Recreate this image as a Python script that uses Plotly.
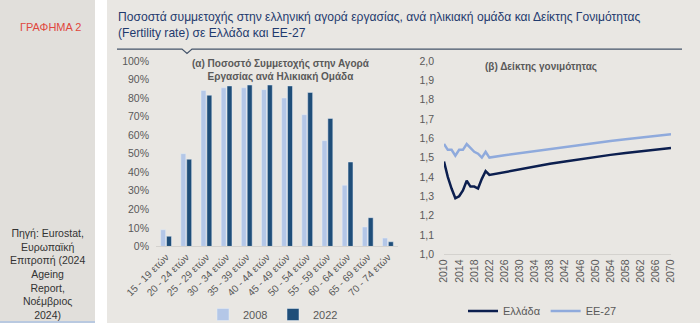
import plotly.graph_objects as go

W, H = 700, 329

# Labour force participation by age group (%)
age_groups = ["15 - 19 ετών", "20 - 24 ετών", "25 - 29 ετών", "30 - 34 ετών",
              "35 - 39 ετών", "40 - 44 ετών", "45 - 49 ετών", "50 - 54 ετών",
              "55 - 59 ετών", "60 - 64 ετών", "65 - 69 ετών", "70 - 74 ετών"]
part_2008 = [9.0, 50.0, 84.0, 85.5, 85.5, 84.5, 80.0, 71.0, 57.0, 33.0, 10.5, 4.5]
part_2022 = [5.5, 47.0, 81.5, 86.5, 87.0, 87.0, 86.5, 83.0, 69.0, 45.5, 15.5, 2.5]
pct_ticks = list(range(0, 101, 10))
pct_labels = [f"{v}%" for v in pct_ticks]

# Total fertility rate: observed 2010-2022, projections to 2070
years = [2010, 2011, 2012, 2013, 2014, 2015, 2016, 2017, 2018, 2019, 2020, 2021, 2022,
         2026, 2030, 2034, 2038, 2042, 2046, 2050, 2054, 2058, 2062, 2066, 2070]
tfr_greece = [1.48, 1.40, 1.34, 1.29, 1.30, 1.33, 1.38, 1.35, 1.35, 1.34, 1.39, 1.43, 1.41,
              1.425, 1.44, 1.455, 1.468, 1.48, 1.492, 1.503, 1.514, 1.524, 1.533, 1.542, 1.55]
tfr_eu27 = [1.57, 1.54, 1.54, 1.51, 1.54, 1.54, 1.57, 1.55, 1.53, 1.52, 1.50, 1.53, 1.50,
            1.512, 1.523, 1.534, 1.545, 1.556, 1.566, 1.576, 1.586, 1.595, 1.604, 1.612, 1.62]
year_ticks = list(range(2010, 2071, 4))
tfr_ticks = [1.0 + i / 10 for i in range(11)]


def px(x):
    return x / W


def py(y):
    return 1 - y / H


FONT = "Liberation Sans, Arial, sans-serif"
GREY = "#595959"

fig = go.Figure()

fig.add_trace(go.Bar(x=age_groups, y=part_2008, name="2008", marker_color="#b4c7e7",
                     xaxis="x", yaxis="y", legend="legend"))
fig.add_trace(go.Bar(x=age_groups, y=part_2022, name="2022", marker_color="#1f4e79",
                     xaxis="x", yaxis="y", legend="legend"))

fig.add_trace(go.Scatter(x=years, y=tfr_greece, name="Ελλάδα", mode="lines",
                         line=dict(color="#0c1f4f", width=2.5),
                         xaxis="x2", yaxis="y2", legend="legend2"))
fig.add_trace(go.Scatter(x=years, y=tfr_eu27, name="ΕΕ-27", mode="lines",
                         line=dict(color="#8faadc", width=2.5),
                         xaxis="x2", yaxis="y2", legend="legend2"))

shapes = [
    # side panel, spacer and main panel backgrounds
    dict(type="rect", xref="paper", yref="paper", x0=0, x1=px(95), y0=0, y1=1,
         fillcolor="#e1dfdb", line_width=0, layer="below"),
    dict(type="rect", xref="paper", yref="paper", x0=px(107), x1=1, y0=0, y1=1,
         fillcolor="#e9e7e3", line_width=0, layer="below"),
    dict(type="line", xref="paper", yref="paper", x0=0, x1=px(95), y0=py(328), y1=py(328),
         line=dict(color="#b9c9e0", width=2), layer="below"),
    # title rule with notch
    dict(type="path", xref="paper", yref="paper",
         path=(f"M {px(117)},{py(50)} L {px(182)},{py(50)} L {px(187)},{py(54.5)} "
               f"L {px(192)},{py(50)} L {px(682)},{py(50)}"),
         line=dict(color="#44546a", width=1.2)),
]

annotations = [
    dict(text="ΓΡΑΦΗΜΑ 2", x=px(50), y=py(27), xref="paper", yref="paper",
         showarrow=False, font=dict(family=FONT, size=11, color="#e0473d"),
         xanchor="center", yanchor="middle"),
    dict(text=("Ποσοστά συμμετοχής στην ελληνική αγορά εργασίας, ανά ηλικιακή ομάδα και Δείκτης Γονιμότητας"
               "<br>(Fertility rate) σε Ελλάδα και ΕΕ-27"),
         x=px(116), y=py(8), xref="paper", yref="paper", showarrow=False, align="left",
         font=dict(family=FONT, size=12.1, color="#1f3a6e"), xanchor="left", yanchor="top"),
    dict(text="Πηγή: Eurostat,<br>Ευρωπαϊκή<br>Επιτροπή (2024<br>Ageing<br>Report,<br>Νοέμβριος<br>2024)",
         x=px(47), y=py(229), xref="paper", yref="paper", showarrow=False, align="center",
         font=dict(family=FONT, size=10.5, color="#333333"), xanchor="center", yanchor="top"),
    dict(text="<b>(α) Ποσοστό Συμμετοχής στην Αγορά<br>Εργασίας ανά Ηλικιακή Ομάδα</b>",
         x=px(281), y=py(57), xref="paper", yref="paper", showarrow=False, align="center",
         font=dict(family=FONT, size=10, color=GREY), xanchor="center", yanchor="top"),
    dict(text="<b>(β) Δείκτης γονιμότητας</b>",
         x=px(541), y=py(60), xref="paper", yref="paper", showarrow=False, align="center",
         font=dict(family=FONT, size=10, color=GREY), xanchor="center", yanchor="top"),
]

tickfont = dict(family=FONT, size=10.5, color=GREY)

fig.update_layout(
    width=W, height=H,
    margin=dict(l=0, r=0, t=0, b=0),
    paper_bgcolor="white",
    plot_bgcolor="rgba(0,0,0,0)",
    separators=",.",
    barmode="group",
    bargap=0.42,
    bargroupgap=0.15,
    shapes=shapes,
    annotations=annotations,
    xaxis=dict(domain=[px(156), px(398)], anchor="y", tickangle=-45, automargin=False,
               tickfont=dict(family=FONT, size=10, color=GREY),
               showgrid=False, showline=True, linecolor="#d4d2ce", ticks=""),
    yaxis=dict(domain=[py(251), py(62)], anchor="x", range=[0, 100], automargin=False,
               tickvals=pct_ticks, ticktext=pct_labels,
               tickfont=tickfont, showgrid=False, zeroline=False, ticklabelstandoff=6),
    xaxis2=dict(domain=[px(444), px(671)], anchor="y2", range=[2010, 2070], automargin=False,
                tickvals=year_ticks, tickangle=-90, tickfont=tickfont,
                showgrid=False, showline=True, linecolor="#d4d2ce", ticks=""),
    yaxis2=dict(domain=[py(259), py(62)], anchor="x2", range=[1.0, 2.0], automargin=False,
                tickvals=tfr_ticks, tickformat=".1f",
                tickfont=tickfont, showgrid=False, zeroline=False, ticklabelstandoff=9),
    legend=dict(orientation="h", x=px(203), y=py(306), xanchor="left", yanchor="top",
                font=dict(family=FONT, size=11, color=GREY), bgcolor="rgba(0,0,0,0)",
                itemwidth=30, entrywidth=25, entrywidthmode="pixels"),
    legend2=dict(orientation="h", x=px(463), y=py(302), xanchor="left", yanchor="top",
                 font=dict(family=FONT, size=11, color=GREY), bgcolor="rgba(0,0,0,0)",
                 itemwidth=30),
    showlegend=True,
)

fig.write_html("out.html")
